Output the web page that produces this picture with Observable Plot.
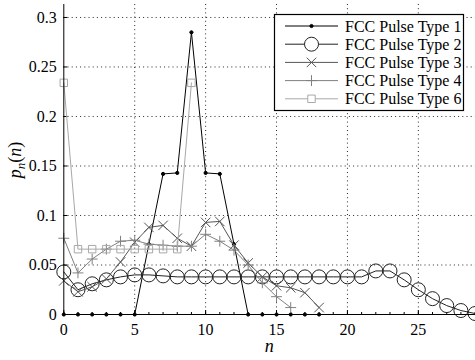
<!DOCTYPE html>
<html><head><meta charset="utf-8">
<script src="https://cdn.jsdelivr.net/npm/d3@7"></script>
<script src="https://cdn.jsdelivr.net/npm/@observablehq/plot@0.6"></script>
<style>
html,body{margin:0;padding:0;background:#fff;}
#chart{position:relative;width:475px;height:360px;overflow:hidden;}
#chart svg text{font-family:"Liberation Serif","Times New Roman",serif !important;}
</style>
</head><body><div id="chart"></div>
<script>
// ---- data ----
const seriesNames = ["FCC Pulse Type 1","FCC Pulse Type 2","FCC Pulse Type 3","FCC Pulse Type 4","FCC Pulse Type 6"];
const type1 = [0,0,0,0,0,0,0.071,0.142,0.143,0.285,0.143,0.142,0.071,0,0,0,0,0,0];
const type2 = [0.043,0.025,0.031,0.035,0.038,0.040,0.040,0.039,
  0.038,0.038,0.038,0.038,0.038,0.038,0.038,0.038,0.038,0.038,0.038,0.038,0.038,0.038,
  0.044,0.044,0.035,0.025,0.016,0.009,0.004,0.001];
const type3 = [0.034,0.023,0.028,0.036,0.053,0.073,0.088,0.090,0.077,0.069,0.093,0.094,0.070,0.052,0.038,0.029,0.027,0.022,0.007];
const type4 = [0.077,0.042,0.056,0.066,0.074,0.075,0.071,0.070,0.069,0.069,0.081,0.074,0.065,0.050,0.032,0.018,0.007];
const type6 = [0.234,0.066,0.066,0.066,0.066,0.066,0.066,0.066,0.066,0.234];
const xTicks = [0,5,10,15,20,25];
const yTicks = [0,0.05,0.1,0.15,0.2,0.25,0.3];
const xMinor = d3.range(0,30);

// ---- styles ----
const colors = ["#000000","#222222","#555555","#808080","#a8a8a8"];
const symbols = ["circle","circle","times","plus","square"];
const radii = [1.6,7,4.4,3.6,4.2];
const fills = ["#000000","none","none","none","none"];
const allSeries = [type1,type2,type3,type4,type6];

const W = 475, H = 360, mL = 63.3, mR = 0, mT = 4, mB = 46;
const serif = "Liberation Serif, serif";

const marks = [
  Plot.gridX(xTicks.filter(d=>d>0), {stroke:"#000", strokeOpacity:0.85, strokeDasharray:"1,3.2"}),
  Plot.gridY(yTicks.filter(d=>d>0), {stroke:"#000", strokeOpacity:0.85, strokeDasharray:"1,3.2"}),
  Plot.tickX(xMinor, {x:d=>d, insetTop: (H-mT-mB)-2, stroke:"#000"}),
  Plot.tickX(xTicks, {x:d=>d, insetTop: (H-mT-mB)-4, stroke:"#000"}),
  Plot.tickY(yTicks, {y:d=>d, insetRight: (W-mL-mR)-4, stroke:"#000"}),
];
allSeries.forEach((vals,i)=>{
  const data = vals.map((v,k)=>({n:k, p:v}));
  marks.push(Plot.line(data, {x:"n", y:"p", stroke:colors[i], strokeWidth:1}));
  marks.push(Plot.dot(data, {x:"n", y:"p", symbol:()=>symbols[i], r:radii[i], stroke:colors[i], fill:fills[i], strokeWidth:1}));
});
marks.push(Plot.ruleY([0], {stroke:"#000"}));
marks.push(Plot.ruleX([0], {stroke:"#000"}));
marks.push(Plot.axisX(xTicks, {tickSize:0, tickPadding:9, label:null, fontSize:16, fontFamily:serif}));
marks.push(Plot.axisY(yTicks, {tickSize:0, tickPadding:7, label:null, fontSize:16, fontFamily:serif, tickFormat:d=>String(d)}));

const plot = Plot.plot({
  width: W, height: H,
  marginLeft: mL, marginRight: mR, marginTop: mT, marginBottom: mB,
  x: {domain:[0, 29.03]},
  y: {domain:[0, 0.3131]},
  symbol: {type:"identity"},
  style: {fontFamily: serif, color:"#000", background:"#fff"},
  marks
});
document.getElementById("chart").appendChild(plot);

// ---- axis labels & legend (drawn with d3 into the Plot SVG) ----
const svg = d3.select(plot.tagName.toLowerCase()==="svg" ? plot : plot.querySelector("svg"));
svg.selectAll("text").attr("fill","#000");
svg.append("text").attr("x", (mL+W)/2).attr("y", 351.5).attr("text-anchor","middle")
  .attr("font-size",18).attr("font-style","italic").text("n");
const yl = svg.append("text").attr("transform","translate(21,160) rotate(-90)").attr("text-anchor","middle")
  .attr("font-size",18).attr("font-style","italic");
yl.append("tspan").text("p");
yl.append("tspan").attr("font-size",13).attr("dy",4).text("n");
yl.append("tspan").attr("dy",-4).attr("font-style","normal").text("(");
yl.append("tspan").text("n");
yl.append("tspan").attr("font-style","normal").text(")");

const lg = svg.append("g");
lg.append("rect").attr("x",274.5).attr("y",14.5).attr("width",189).attr("height",96)
  .attr("fill","#fff").attr("stroke","#000").attr("stroke-width",1.2);
const symMap = {circle:d3.symbolCircle, times:d3.symbolTimes, plus:d3.symbolPlus, square:d3.symbolSquare};
seriesNames.forEach((name,i)=>{
  const cy = 26 + i*18.2;
  lg.append("line").attr("x1",285).attr("x2",338).attr("y1",cy).attr("y2",cy).attr("stroke",colors[i]).attr("stroke-width",1);
  lg.append("path").attr("transform",`translate(311.5,${cy})`)
    .attr("d", d3.symbol(symMap[symbols[i]], Math.PI*radii[i]*radii[i])())
    .attr("fill", fills[i]==="none"?"#fff":fills[i]).attr("stroke",colors[i]).attr("stroke-width",1);
  lg.append("text").attr("x",345).attr("y",cy+5.5).attr("text-anchor","start").attr("font-size",16).attr("fill","#000").text(name);
});
</script>
</body></html>
